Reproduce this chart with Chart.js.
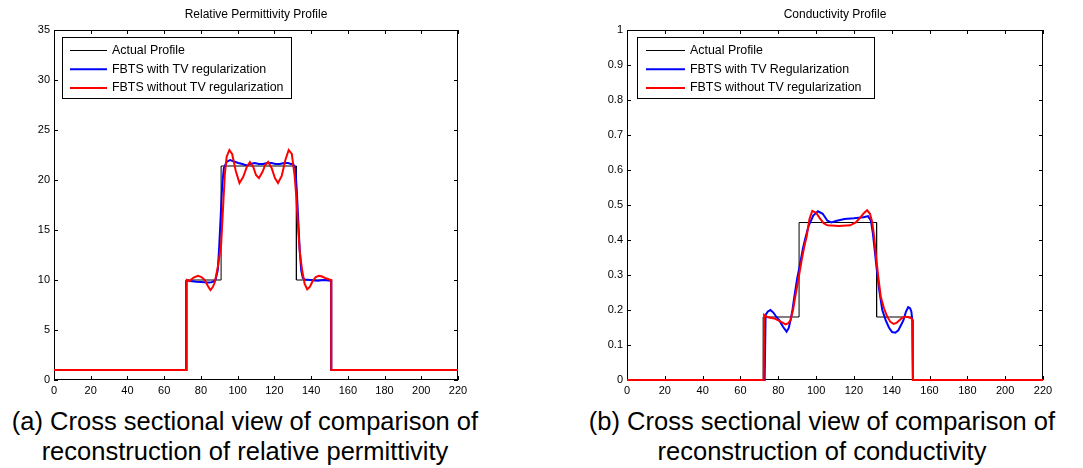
<!DOCTYPE html>
<html>
<head>
<meta charset="utf-8">
<script src="https://cdn.jsdelivr.net/npm/chart.js@4/dist/chart.umd.min.js"></script>
<style>
  body { margin: 0; background: #fff; width: 1083px; height: 468px; position: relative; overflow: hidden; }
  canvas { position: absolute; top: 0; }
  #chart-perm { left: 0; }
  #chart-cond { left: 540px; }
  .pie { position: absolute; top: 406px; font: 25.5px 'Liberation Sans', Arial, sans-serif; line-height: 30px; color: #000; text-align: center; }
</style>
</head>
<body>
<canvas id="chart-perm" width="540" height="400"></canvas>
<canvas id="chart-cond" width="543" height="400"></canvas>
<div class="pie" style="left:0;width:490px">(a) Cross sectional view of comparison of<br>reconstruction of relative permittivity</div>
<div class="pie" style="left:572px;width:500px">(b) Cross sectional view of comparison of<br>reconstruction of conductivity</div>
<script>
// ── DATOS ─────────────────────────────────────────────────────
// perfil real (escalón)
const perfilX = [0, 72, 72, 91, 91, 132, 132, 151, 151, 220];
const permReal = [1, 1, 10, 10, 21.4, 21.4, 10, 10, 1, 1];
const condReal = [0, 0, 0.18, 0.18, 0.45, 0.45, 0.18, 0.18, 0, 0];

// permitividad, FBTS con TV
const permTvX = [0, 72, 72, 73, 75.2, 77.5, 79.8, 82, 84, 85.8, 87, 88, 89.2, 90, 90.8, 91.6, 92.5, 94, 95.9, 98, 100.4, 102.5, 104.9, 107, 109.4, 111.5, 113.9, 116, 118.4, 120.7, 123, 125.3, 127.5, 129, 130.2, 131.4, 132.2, 133, 133.8, 134.6, 135.5, 136.5, 139.7, 143.4, 147, 150.7, 151, 151, 220];
const permTvY = [1, 1, 9.9, 9.93, 9.88, 9.83, 9.8, 9.77, 9.76, 9.77, 9.85, 10.05, 11, 13.5, 16.5, 19.5, 21.2, 21.8, 22.0, 21.85, 21.7, 21.6, 21.45, 21.6, 21.7, 21.6, 21.6, 21.7, 21.7, 21.6, 21.6, 21.7, 21.7, 21.6, 21.6, 21.2, 19, 16, 13, 11, 10.2, 10.05, 10, 9.93, 10, 9.93, 9.93, 1, 1];

// permitividad, FBTS sin TV
const permSinX = [0, 72, 72.3, 73.8, 76, 78.4, 80.3, 82.1, 83.8, 85.2, 86.5, 87.6, 89.4, 91, 92, 93, 94, 95.5, 97, 99, 101, 103, 105, 106.7, 108.5, 110, 111.6, 113.5, 115, 116.6, 118.5, 120.3, 122, 124, 126, 127.8, 129.5, 131, 132, 133, 133.8, 135.1, 136.5, 137.9, 139.3, 140.6, 142.5, 144.3, 146, 148, 150.7, 151, 151, 220];
const permSinY = [1, 1, 10, 9.9, 10.25, 10.43, 10.3, 10, 9.4, 9.0, 9.3, 9.8, 11.5, 13.5, 17, 20.5, 22.3, 23.0, 22.6, 20.9, 19.7, 20.3, 21.3, 21.8, 21.3, 20.5, 20.2, 20.8, 21.5, 21.8, 21.2, 20.2, 19.7, 20.4, 22.0, 23.0, 22.6, 20.5, 18.2, 15, 12.9, 11, 9.6, 9.07, 9.3, 9.8, 10.3, 10.43, 10.35, 10.17, 10, 10, 1, 1];

// conductividad, FBTS con TV
const condTvX = [0, 72.8, 73.3, 74.5, 75.9, 77.5, 79, 80.5, 82.5, 84.4, 85.5, 86.5, 87.5, 88.5, 90, 91.6, 93, 94.1, 96, 98.5, 101, 103.5, 106, 108, 111, 115, 120, 125, 127.5, 129, 130, 130.8, 132, 133.4, 135, 136.8, 138.5, 140.2, 141.9, 143.5, 145, 146.2, 147.5, 148.7, 149.7, 150.4, 150.9, 151.2, 220];
const condTvY = [0, 0, 0.186, 0.196, 0.2, 0.192, 0.18, 0.171, 0.152, 0.138, 0.148, 0.171, 0.2, 0.238, 0.29, 0.333, 0.375, 0.4, 0.44, 0.47, 0.482, 0.475, 0.455, 0.45, 0.455, 0.46, 0.462, 0.465, 0.468, 0.455, 0.42, 0.381, 0.32, 0.257, 0.2, 0.171, 0.15, 0.137, 0.135, 0.142, 0.158, 0.171, 0.195, 0.208, 0.205, 0.195, 0.17, 0, 0];

// conductividad, FBTS sin TV
const condSinX = [0, 72.3, 72.5, 74.5, 77.9, 81.3, 83.9, 85.3, 86.5, 87.8, 89, 90.7, 92.4, 93.7, 95, 96.5, 98, 100, 102, 104, 106, 112, 118, 121, 123.5, 125.5, 127, 128.5, 129.7, 130.7, 131.7, 133, 134.2, 135.9, 137.6, 139.3, 141, 142.5, 144.1, 145.6, 147, 148.5, 150.4, 150.9, 151.2, 220];
const condSinY = [0, 0, 0.186, 0.179, 0.176, 0.167, 0.159, 0.162, 0.171, 0.2, 0.238, 0.29, 0.343, 0.38, 0.41, 0.46, 0.483, 0.478, 0.462, 0.448, 0.442, 0.44, 0.442, 0.45, 0.465, 0.478, 0.485, 0.475, 0.45, 0.41, 0.352, 0.29, 0.238, 0.205, 0.181, 0.166, 0.16, 0.163, 0.171, 0.178, 0.181, 0.18, 0.176, 0.172, 0, 0];

const FUENTE = "'Liberation Sans', Arial, sans-serif";

function puntos(xs, ys) {
    return xs.map((x, i) => ({ x, y: ys[i] }));
}

// ── CAJA DE EJES, MARCAS HACIA DENTRO, TÍTULO Y LEYENDA ──────
const ejesMatlab = {
    id: 'ejesMatlab',
    beforeDatasetsDraw(chart, args, opts) {
        const { ctx, chartArea: a, scales: { x, y } } = chart;
        ctx.save();
        ctx.strokeStyle = '#000';
        ctx.lineWidth = 1;
        ctx.strokeRect(a.left + 0.5, a.top + 0.5, a.width - 1, a.height - 1);
        ctx.beginPath();
        x.ticks.forEach(t => {
            const px = Math.round(x.getPixelForValue(t.value)) + 0.5;
            ctx.moveTo(px, a.bottom); ctx.lineTo(px, a.bottom - 4);
            ctx.moveTo(px, a.top); ctx.lineTo(px, a.top + 4);
        });
        y.ticks.forEach(t => {
            const py = Math.round(y.getPixelForValue(t.value)) + 0.5;
            ctx.moveTo(a.left, py); ctx.lineTo(a.left + 4, py);
            ctx.moveTo(a.right, py); ctx.lineTo(a.right - 4, py);
        });
        ctx.stroke();

        // título sobre el área
        ctx.fillStyle = '#000';
        ctx.font = '12px ' + FUENTE;
        ctx.textAlign = 'center';
        ctx.textBaseline = 'middle';
        ctx.fillText(opts.titulo, (a.left + a.right) / 2, a.top - 15);
        ctx.restore();
    },
    afterDraw(chart, args, opts) {
        const { ctx, chartArea: a } = chart;
        const bx = a.left + opts.dx, by = a.top + 7;
        ctx.save();
        ctx.fillStyle = '#fff';
        ctx.fillRect(bx, by, opts.ancho, 61);
        ctx.strokeStyle = '#000';
        ctx.lineWidth = 1;
        ctx.strokeRect(bx + 0.5, by + 0.5, opts.ancho, 61);
        ctx.font = '12.4px ' + FUENTE;
        ctx.textAlign = 'left';
        ctx.textBaseline = 'middle';
        chart.data.datasets.forEach((ds, i) => {
            const fy = by + 13.5 + i * 18.7;
            ctx.strokeStyle = ds.borderColor;
            ctx.lineWidth = ds.borderWidth;
            ctx.beginPath();
            ctx.moveTo(bx + opts.linea[0], fy);
            ctx.lineTo(bx + opts.linea[1], fy);
            ctx.stroke();
            ctx.fillStyle = '#000';
            ctx.fillText(ds.label, bx + opts.texto, fy);
        });
        ctx.restore();
    },
};

function crearPerfil(canvasId, series, ejeY, anchoEjeY, padDerecho, leyenda) {
    const ctx = document.getElementById(canvasId).getContext('2d');
    const n = series.length;
    return new Chart(ctx, {
        type: 'line',
        data: {
            // la última serie queda encima (order menor se pinta al final)
            datasets: series.map((s, i) => ({
                label: s.label,
                data: s.data,
                borderColor: s.color,
                borderWidth: s.ancho,
                order: n - 1 - i,
                pointRadius: 0,
                tension: 0,
                fill: false,
                clip: false,
            })),
        },
        options: {
            responsive: false,
            animation: false,
            layout: { padding: { top: 30, right: padDerecho, left: 0, bottom: 0 } },
            plugins: {
                legend: { display: false },
                tooltip: { enabled: false },
                ejesMatlab: leyenda,
            },
            scales: {
                x: {
                    type: 'linear',
                    min: 0, max: 220,
                    grid: { display: false, drawTicks: false },
                    border: { display: false },
                    ticks: { stepSize: 20, color: '#000', padding: 4, maxRotation: 0, font: { family: FUENTE, size: 11 } },
                    afterFit: s => { s.height = 20; },
                },
                y: {
                    type: 'linear',
                    min: ejeY.min, max: ejeY.max,
                    grid: { display: false, drawTicks: false },
                    border: { display: false },
                    ticks: {
                        stepSize: ejeY.paso, color: '#000', padding: 4,
                        font: { family: FUENTE, size: 11 },
                        callback: v => String(+v.toFixed(1)),
                    },
                    afterFit: s => { s.width = anchoEjeY; },
                },
            },
        },
        plugins: [ejesMatlab],
    });
}

// Permitividad relativa
crearPerfil('chart-perm', [
    { label: 'Actual Profile', data: puntos(perfilX, permReal), color: '#000000', ancho: 1 },
    { label: 'FBTS with TV regularization', data: puntos(permTvX, permTvY), color: '#0000ff', ancho: 2 },
    { label: 'FBTS without TV regularization', data: puntos(permSinX, permSinY), color: '#ff0000', ancho: 2 },
], { min: 0, max: 35, paso: 5 }, 54, 82,
   { titulo: 'Relative Permittivity Profile', dx: 8, ancho: 229, linea: [8, 45], texto: 50 });

// Conductividad
crearPerfil('chart-cond', [
    { label: 'Actual Profile', data: puntos(perfilX, condReal), color: '#000000', ancho: 1 },
    { label: 'FBTS with TV Regularization', data: puntos(condTvX, condTvY), color: '#0000ff', ancho: 2 },
    { label: 'FBTS without TV regularization', data: puntos(condSinX, condSinY), color: '#ff0000', ancho: 2 },
], { min: 0, max: 1, paso: 0.1 }, 87, 40,
   { titulo: 'Conductivity Profile', dx: 10, ancho: 237, linea: [9, 48], texto: 53 });
</script>
</body>
</html>
